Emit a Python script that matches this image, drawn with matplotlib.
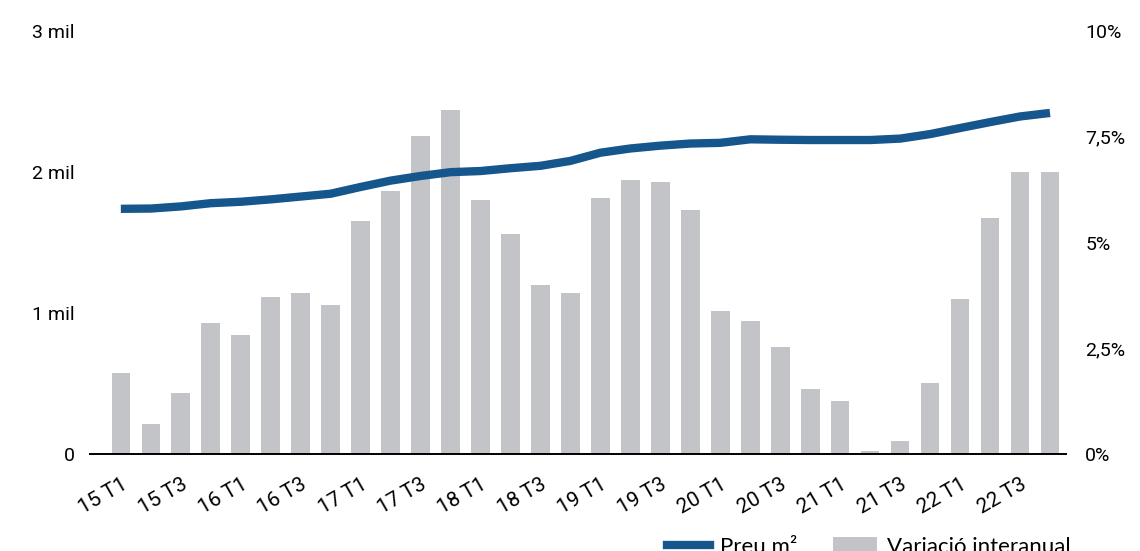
import matplotlib.pyplot as plt
from matplotlib.lines import Line2D
from matplotlib.patches import Patch
from matplotlib.ticker import FuncFormatter

plt.rcParams["font.family"] = ["Roboto", "DejaVu Sans"]

quarters = [
    "15 T1", "15 T2", "15 T3", "15 T4",
    "16 T1", "16 T2", "16 T3", "16 T4",
    "17 T1", "17 T2", "17 T3", "17 T4",
    "18 T1", "18 T2", "18 T3", "18 T4",
    "19 T1", "19 T2", "19 T3", "19 T4",
    "20 T1", "20 T2", "20 T3", "20 T4",
    "21 T1", "21 T2", "21 T3", "21 T4",
    "22 T1", "22 T2", "22 T3", "22 T4",
]

# preu mitjà per m2 (eix esquerre)
preu_m2 = [
    1739, 1741, 1756, 1779, 1789, 1806, 1826, 1846,
    1894, 1939, 1972, 1999, 2007, 2027, 2044, 2079,
    2137, 2167, 2187, 2202, 2207, 2232, 2229, 2227,
    2227, 2227, 2237, 2269, 2312, 2354, 2394, 2419,
]

# variació interanual en % (eix dret)
variacio = [
    1.91, 0.72, 1.44, 3.10, 2.82, 3.72, 3.81, 3.53,
    5.51, 6.22, 7.51, 8.13, 6.00, 5.19, 4.00, 3.81,
    6.05, 6.47, 6.42, 5.76, 3.39, 3.15, 2.54, 1.53,
    1.25, 0.07, 0.30, 1.68, 3.67, 5.57, 6.66, 6.66,
]

BLUE = "#15568c"
GREY = "#c3c4c8"

x = list(range(len(quarters)))

fig = plt.figure(figsize=(11.4, 5.51), dpi=100)
ax = fig.add_axes([0.0789, 0.176, 0.8561, 0.7677])
ax2 = ax.twinx()

ax2.bar(x, variacio, width=0.62, color=GREY)
ax2.set_ylim(0, 10)
ax2.set_yticks([0, 2.5, 5, 7.5, 10])
ax2.yaxis.set_major_formatter(
    FuncFormatter(lambda v, p: f"{v:g}".replace(".", ",") + "%")
)

ax.plot(x, preu_m2, color=BLUE, lw=6, solid_capstyle="butt")
ax.set_ylim(0, 3000)
ax.set_yticks([0, 1000, 2000, 3000])
ax.yaxis.set_major_formatter(
    FuncFormatter(lambda v, p: "0" if v == 0 else f"{int(v / 1000)} mil")
)
ax.set_xlim(-1.03, 31.53)

# la línia per sobre de les barres
ax.set_zorder(ax2.get_zorder() + 1)
ax.patch.set_visible(False)

for s in ax.spines.values():
    s.set_visible(False)
for s in ax2.spines.values():
    s.set_visible(False)
ax.spines["bottom"].set_visible(True)
ax.spines["bottom"].set_color("black")
ax.spines["bottom"].set_linewidth(1.4)

ax.set_xticks(x[::2])
ax.set_xticklabels(quarters[::2], rotation=30, ha="right",
                   rotation_mode="anchor")
ax.tick_params(axis="x", length=0, pad=15, labelsize=15)
ax.tick_params(axis="y", length=0, pad=11, labelsize=14)
ax2.tick_params(axis="y", length=0, pad=14, labelsize=14)

handles = [
    Line2D([], [], color=BLUE, lw=6),
    Patch(facecolor=GREY),
]
fig.legend(
    handles,
    ["Preu m²", "Variació interanual"],
    loc="center",
    bbox_to_anchor=(0.762, 0.008),
    ncol=2,
    frameon=False,
    prop={"family": "Lato", "size": 16},
    handlelength=1.95,
    handletextpad=0.45,
    columnspacing=1.6,
)

fig.savefig("out.png", dpi=100)
